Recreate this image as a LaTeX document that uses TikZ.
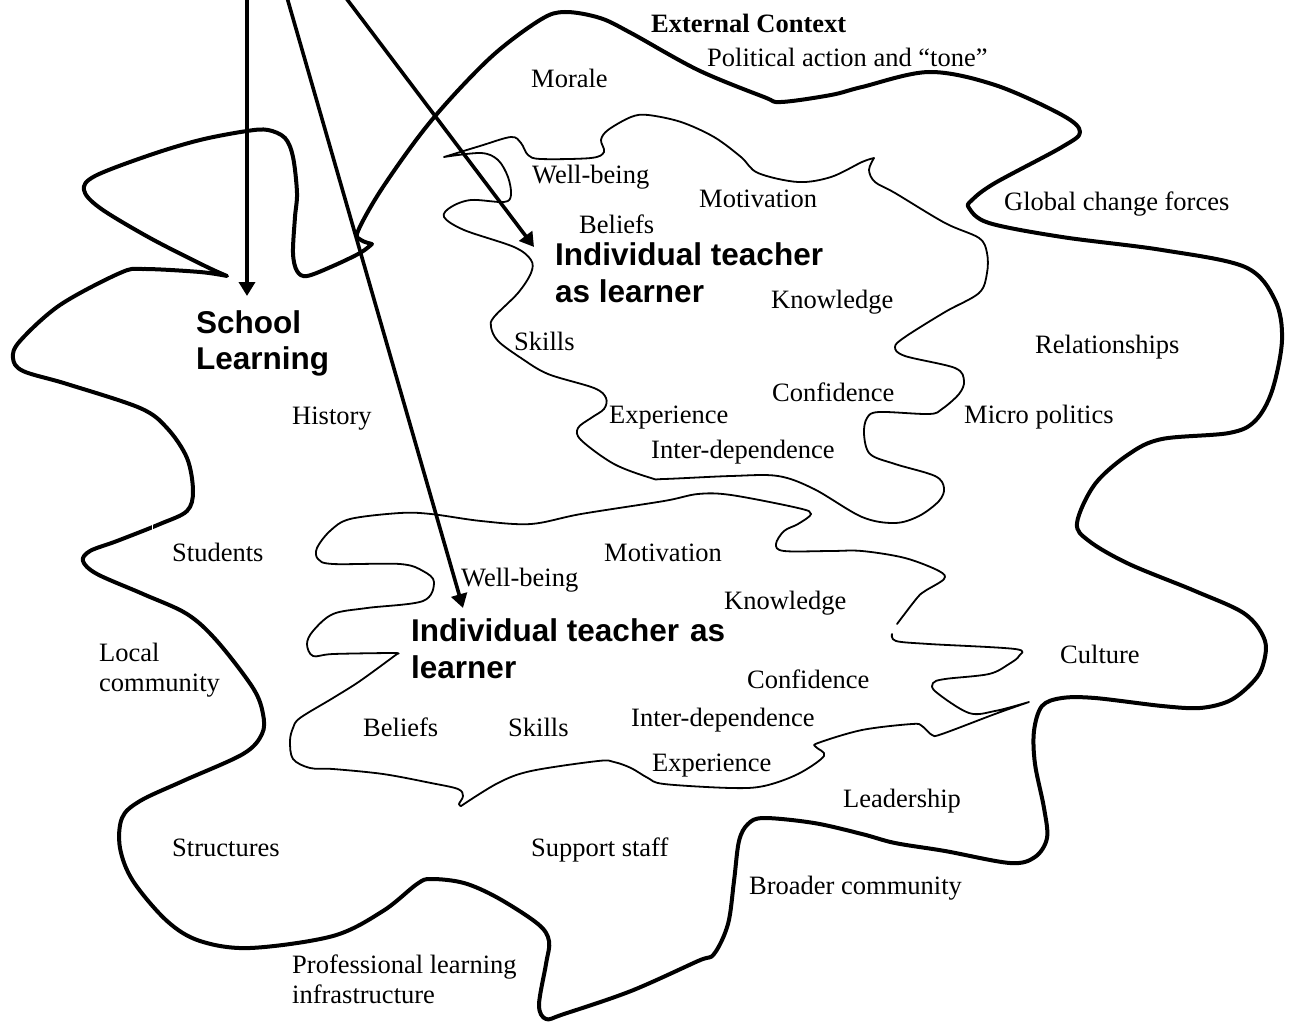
\documentclass[tikz,border=0pt]{standalone}
\usepackage{fontspec}
\setmainfont{Liberation Serif}
\newfontfamily\headfont{Liberation Sans}
\usetikzlibrary{arrows.meta}
\begin{document}
\begin{tikzpicture}[x=1pt,y=-1pt,
  lbl/.style={anchor=base west, inner sep=0pt, font=\fontsize{26.5}{30}\selectfont},
  extlbl/.style={anchor=base west, inner sep=0pt, font=\bfseries\fontsize{26.5}{30}\selectfont},
  head/.style={anchor=base west, inner sep=0pt, font=\headfont\bfseries\fontsize{31.5}{36}\selectfont},
  bigblob/.style={line width=4pt, line join=round, line cap=round},
  smallblob/.style={line width=1.8pt, line join=round, line cap=round},
  pointer/.style={line width=3.6pt, -{Triangle[length=14pt,width=16pt]}}]
\useasboundingbox (0,0) rectangle (1293,1022);

% school boundary, merging into the external context
\draw[bigblob]
  plot[smooth, tension=0.55] coordinates {(227,276) (205,266) (150,238) (100,208) (84,190) (95,176) (150,155) (200,140) (247,131) (268,130) (285,138) (293,157) (297,193) (295,217) (293,253) (297,271) (307,276) (333,266) (360,253) (372,244)}
  -- plot[smooth, tension=0.55] coordinates {(372,244) (361,240) (358,231) (383,187) (431,121) (490,58) (540,20) (565,12) (600,18) (631,33) (698,70) (764,97) (781,102) (831,95) (862,87) (929,72) (995,85) (1062,115) (1080,132) (1062,147) (995,183) (972,200) (969,208) (989,223) (1062,237) (1162,250) (1245,267) (1275,300) (1282,340) (1272,391) (1255,421) (1229,433) (1162,439) (1129,454) (1095,484) (1077,523) (1089,541) (1129,564) (1195,591) (1245,614) (1265,641) (1262,668) (1250,685) (1229,701) (1200,708) (1162,706) (1095,698) (1062,698) (1042,706) (1034,731) (1035,764) (1044,808) (1047,838) (1035,857) (1010,863) (945,851) (895,843) (862,834) (814,823) (764,818) (748,824) (739,841) (734,881) (728,924) (714,954) (698,961) (631,991) (564,1014) (546,1019) (539,1005) (546,964) (549,941) (538,924) (498,898) (464,883) (431,879) (417,884) (383,911) (333,936) (250,948) (200,941) (167,921) (133,881) (120,848) (122,818) (140,801) (183,781) (243,754) (262,734) (263,714) (253,688) (217,641) (187,614) (143,594) (97,574) (83,561) (90,551) (117,541) (160,524) (187,511) (193,491) (187,458) (167,428) (140,408) (67,384) (23,371) (13,358) (20,341) (60,305) (120,273) (143,269) (200,272) (227,276)}
  -- cycle;
\draw[white, line width=1pt] (152,519) -- (152,533);

% upper individual teacher
\draw[smallblob]
  plot[smooth, tension=0.55] coordinates {(444,157) (480,146) (511,137) (521,143) (528,155) (541,159) (591,158) (604,152) (601,140) (608,130) (631,117) (648,115) (681,122) (714,137) (741,157) (758,173) (798,182) (831,177) (862,162) (874,158)}
  -- plot[smooth, tension=0.55] coordinates {(874,158) (869,170) (875,182) (895,193) (945,223) (979,238) (987,253) (987,273) (979,293) (945,312) (905,337) (895,347) (905,356) (955,368) (964,381) (959,394) (942,409) (929,414) (879,412) (867,418) (864,434) (870,454) (895,464) (935,476) (944,488) (939,501) (919,516) (895,523) (862,517) (814,489) (778,476) (731,476) (664,479) (651,478) (614,464) (581,440) (578,428) (591,418) (604,409) (606,398) (594,388) (548,374) (521,358) (498,341) (491,327) (494,317) (518,293) (531,273) (531,260) (514,247) (464,230) (444,217) (451,207) (471,200) (504,202) (511,195) (508,177) (498,160) (481,153) (444,157)}
  -- cycle;

% lower individual teacher
\draw[smallblob]
  plot[smooth, tension=0.55] coordinates {(892,634) (896,641) (929,644) (1015,649) (1019,656) (1009,664) (989,674) (945,679) (933,683) (936,692) (969,713) (995,711) (1029,702)}
  -- plot[smooth, tension=0.55] coordinates {(1029,702) (995,714) (942,734) (932,735) (922,726) (912,724) (862,730) (818,743) (816,747) (824,756) (798,774) (764,786) (731,788) (664,784) (648,778) (631,768) (614,762) (598,761) (531,771) (498,783) (461,806)}
  -- plot[smooth, tension=0.55] coordinates {(461,806) (459,804) (463,796) (458,789) (431,783) (383,774) (333,769) (310,768) (293,759) (290,741) (293,728) (300,718) (333,698) (360,681) (397,654)}
  -- plot[smooth, tension=0.55] coordinates {(397,654) (393,653) (333,654) (313,656) (307,644) (313,631) (333,614) (367,608) (423,601) (434,582) (423,571) (400,564) (333,564) (318,559) (317,548) (330,531) (350,519) (400,513) (431,514) (481,521) (531,524) (581,514) (664,501) (698,494) (731,495) (798,508) (811,514) (798,524) (784,531) (776,544) (784,551) (831,551) (862,551) (905,558) (939,571) (944,579) (925,591) (917,598) (897,624)};

% labels
\node[extlbl] (ext) at (651,33) {External Context};
\node[lbl] (pol) at (707,67) {Political action and “tone”};
\node[lbl] (morale) at (531,88) {Morale};
\node[lbl] (wb1) at (532,183) {Well-being};
\node[lbl] (mot1) at (699,207) {Motivation};
\node[lbl] (glob) at (1004,210) {Global change forces};
\node[lbl] (bel1) at (579,233) {Beliefs};
\node[head] (itl1a) at (555,265) {Individual teacher};
\node[head] (itl1b) at (555,302) {as learner};
\node[lbl] (know1) at (771,308) {Knowledge};
\node[head] (schoolA) at (196,333) {School};
\node[head] (schoolB) at (196,369) {Learning};
\node[lbl] (sk1) at (514,350) {Skills};
\node[lbl] (rel) at (1035,353) {Relationships};
\node[lbl] (conf1) at (772,401) {Confidence};
\node[lbl] (hist) at (292,424) {History};
\node[lbl] (exp1) at (609,423) {Experience};
\node[lbl] (micro) at (964,423) {Micro politics};
\node[lbl] (inter1) at (651,458) {Inter-dependence};
\node[lbl] (stud) at (172,561) {Students};
\node[lbl] (mot2) at (604,561) {Motivation};
\node[lbl] (wb2) at (461,586) {Well-being};
\node[lbl] (know2) at (724,609) {Knowledge};
\node[head] (itl2a) at (411,641) {Individual teacher\hspace{0.35em}as};
\node[head] (itl2b) at (411,678) {learner};
\node[lbl] (locA) at (99,661) {Local};
\node[lbl] (locB) at (99,691) {community};
\node[lbl] (cult) at (1060,663) {Culture};
\node[lbl] (conf2) at (747,688) {Confidence};
\node[lbl] (inter2) at (631,726) {Inter-dependence};
\node[lbl] (bel2) at (363,736) {Beliefs};
\node[lbl] (sk2) at (508,736) {Skills};
\node[lbl] (exp2) at (652,771) {Experience};
\node[lbl] (lead) at (843,807) {Leadership};
\node[lbl] (struct) at (172,856) {Structures};
\node[lbl] (supp) at (531,856) {Support staff};
\node[lbl] (broad) at (749,894) {Broader community};
\node[lbl] (profA) at (292,973) {Professional learning};
\node[lbl] (profB) at (292,1003) {infrastructure};

% arrows entering from above
\coordinate (srcA) at (247,-6);
\coordinate (srcB) at (286,-6);
\coordinate (srcC) at (343,-6);
\coordinate (tipA) at (247,296);
\coordinate (tipB) at (463,608);
\coordinate (tipC) at (534,247);
\draw[pointer] (srcA) -- (tipA);
\draw[pointer] (srcB) -- (tipB);
\draw[pointer] (srcC) -- (tipC);
\end{tikzpicture}
\end{document}
